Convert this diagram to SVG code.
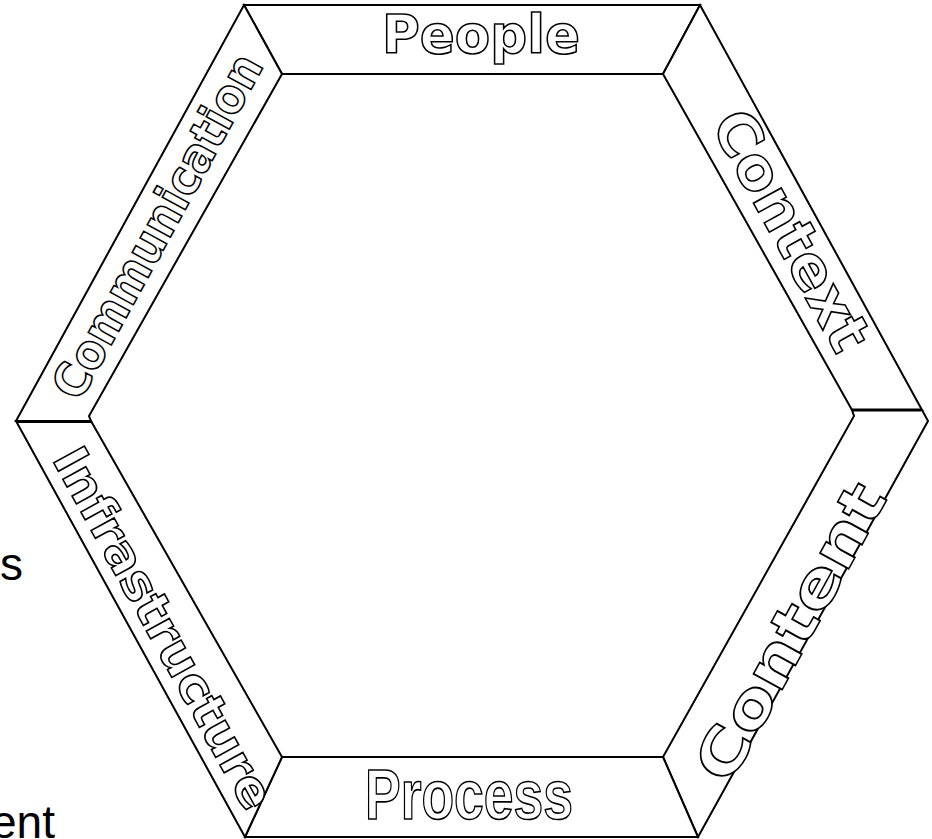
<svg xmlns="http://www.w3.org/2000/svg" width="932" height="839" viewBox="0 0 932 839">
<style>
.band{fill:#fff;stroke:#000;stroke-width:2;stroke-linejoin:miter}
.sep{stroke:#000;stroke-width:3;fill:none}
.lbl{font-family:"DejaVu Sans","Liberation Sans",sans-serif;font-weight:700;fill:#fff;stroke:#000;stroke-width:1.6;text-anchor:middle}
.nar{font-family:"Liberation Sans",Arial,sans-serif;font-weight:700;fill:#fff;stroke:#000;stroke-width:1.6;text-anchor:middle}
.bg{font-family:"Liberation Sans",Arial,sans-serif;font-size:46px;fill:#000}
</style>
<rect width="932" height="839" fill="#fff"/>
<text class="bg" x="0" y="580">s</text>
<text class="bg" x="-9" y="838">ent</text>
<g id="people">
<polygon class="band" points="244,5 700,5 663,74 282,74"/>
<text class="lbl" x="481" y="53" font-size="54" textLength="198" lengthAdjust="spacingAndGlyphs">People</text>
</g>
<g id="context">
<polygon class="band" points="700,5 922,410 852,410 663,74"/>
<text class="lbl" transform="translate(792,230) rotate(61.3)" x="0" y="21" font-size="58" textLength="265" lengthAdjust="spacingAndGlyphs">Context</text>
</g>
<g id="content">
<polygon class="band" points="922,410 928,421 698,837 663,757 854,416 852,410"/>
<text class="lbl" transform="translate(790,632) rotate(-61.2)" x="0" y="21" font-size="60" textLength="330" lengthAdjust="spacingAndGlyphs">Content</text>
</g>
<g id="process">
<polygon class="band" points="282,757 663,757 698,837 245,837"/>
<text class="nar" x="469" y="819" font-size="71" textLength="208" lengthAdjust="spacingAndGlyphs">Process</text>
</g>
<g id="infrastructure">
<polygon class="band" points="16,421 91,421 282,757 245,837"/>
<text class="lbl" transform="translate(164,628) rotate(61.2)" x="0" y="17" font-size="48" textLength="405" lengthAdjust="spacingAndGlyphs">Infrastructure</text>
</g>
<g id="communication">
<polygon class="band" points="16,421 244,5 282,74 89,416 91,421"/>
<text class="lbl" transform="translate(157,226) rotate(-61.3)" x="0" y="17" font-size="48" textLength="385" lengthAdjust="spacingAndGlyphs">Communication</text>
</g>
<g id="separators">
<line class="sep" x1="852" y1="410" x2="921" y2="410"/>
<line class="sep" x1="16" y1="421.5" x2="91" y2="421.5"/>
</g>
<g id="connectors"/>
</svg>
